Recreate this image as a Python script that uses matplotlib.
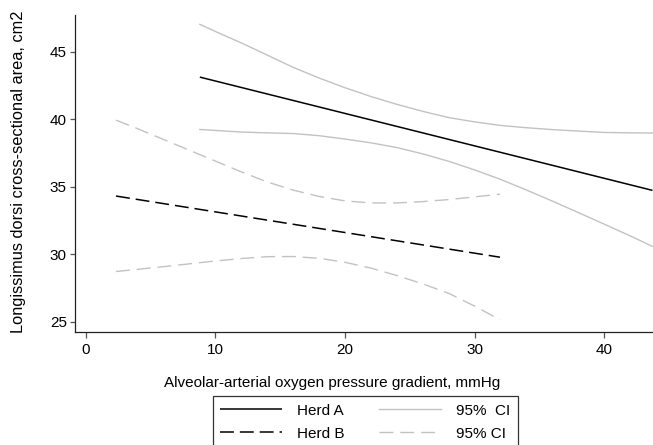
import matplotlib
matplotlib.use("Agg")
import matplotlib.pyplot as plt

plt.rcParams["font.family"] = ["Liberation Sans", "DejaVu Sans"]
plt.rcParams["lines.scale_dashes"] = False

# Herd A: fitted line and 95% confidence band
herd_a_x = [8.8, 43.7]
herd_a_y = [43.12, 34.73]
ci_a_x = [8.8, 10, 12, 14, 16, 18, 20, 22, 24, 26, 28, 30, 32, 34, 36, 38, 40, 42, 43.7]
ci_a_upper = [47.03, 46.50, 45.65, 44.75, 43.84, 43.05, 42.33, 41.68, 41.10, 40.58,
              40.12, 39.80, 39.54, 39.37, 39.23, 39.12, 39.02, 38.99, 38.98]
ci_a_lower = [39.24, 39.17, 39.05, 38.99, 38.94, 38.78, 38.53, 38.25, 37.90, 37.43,
              36.88, 36.24, 35.54, 34.75, 33.93, 33.08, 32.22, 31.35, 30.58]

# Herd B: fitted line and 95% confidence band
herd_b_x = [2.34, 31.94]
herd_b_y = [34.31, 29.78]
ci_b_x = [2.34, 4, 6, 8, 10, 12, 14, 16, 18, 20, 22, 24, 26, 28, 30, 31.94]
ci_b_upper = [39.93, 39.30, 38.50, 37.70, 36.90, 36.10, 35.35, 34.75, 34.28, 33.95,
              33.80, 33.80, 33.90, 34.05, 34.25, 34.45]
ci_b_lower = [28.72, 28.88, 29.08, 29.29, 29.50, 29.68, 29.82, 29.83, 29.70, 29.40,
              28.97, 28.42, 27.80, 27.10, 26.15, 25.15]

x_ticks = [0, 10, 20, 30, 40]
y_ticks = [25, 30, 35, 40, 45]

W, H = 653, 445
FS = 11
fig = plt.figure(figsize=(W / 100, H / 100), dpi=100)
ax = fig.add_axes([75 / W, 1 - 332 / H, (653 - 75) / W, (332 - 15) / H])

gray = "#c2c2c2"
dash_black = (0, (10.0, 4.3))
dash_gray = (0, (10.0, 5.0))

l_a, = ax.plot(herd_a_x, herd_a_y, color="black", lw=1.1, solid_capstyle="butt")
l_ca, = ax.plot(ci_a_x, ci_a_upper, color=gray, lw=1.0)
ax.plot(ci_a_x, ci_a_lower, color=gray, lw=1.0)
l_b, = ax.plot(herd_b_x, herd_b_y, color="black", lw=1.1, linestyle=dash_black)
l_cb, = ax.plot(ci_b_x, ci_b_upper, color=gray, lw=1.0, linestyle=dash_gray)
ax.plot(ci_b_x, ci_b_lower, color=gray, lw=1.0, linestyle=dash_gray)

ax.set_xlim(-0.825, 43.74)
ax.set_ylim(24.24, 47.72)
ax.set_xticks(x_ticks)
ax.set_yticks(y_ticks)
for s in ("top", "right"):
    ax.spines[s].set_visible(False)
for s in ("left", "bottom"):
    ax.spines[s].set_color("#222222")
    ax.spines[s].set_linewidth(0.9)
ax.tick_params(axis="both", colors="#555555", labelcolor="black", labelsize=FS,
               width=0.9)
ax.tick_params(axis="x", length=4.3, pad=3.6)
ax.tick_params(axis="y", length=3.6, pad=2.2)

fig.text(18.3 / W, 1 - 172 / H, "Longissimus dorsi cross-sectional area, cm2",
         rotation=90, ha="center", va="center", fontsize=11.8)
fig.text(332.5 / W, 1 - 383 / H, "Alveolar-arterial oxygen pressure gradient, mmHg",
         ha="center", va="center", fontsize=FS)

# two columns, filled column by column: fits in column 1, CIs in column 2
leg = fig.legend([l_a, l_b, l_ca, l_cb],
                 ["Herd A", "Herd B", "95%  CI", "95% CI"],
                 ncol=2, loc="upper left",
                 bbox_to_anchor=(212.7 / W, 1 - 396 / H),
                 fontsize=FS, frameon=True, fancybox=False,
                 handlelength=4.05, handletextpad=0.95, columnspacing=2.3,
                 labelspacing=0.6, borderpad=0.5, borderaxespad=0.0)
leg.get_frame().set_edgecolor("black")
leg.get_frame().set_linewidth(0.9)

fig.savefig("out.png", dpi=100)
